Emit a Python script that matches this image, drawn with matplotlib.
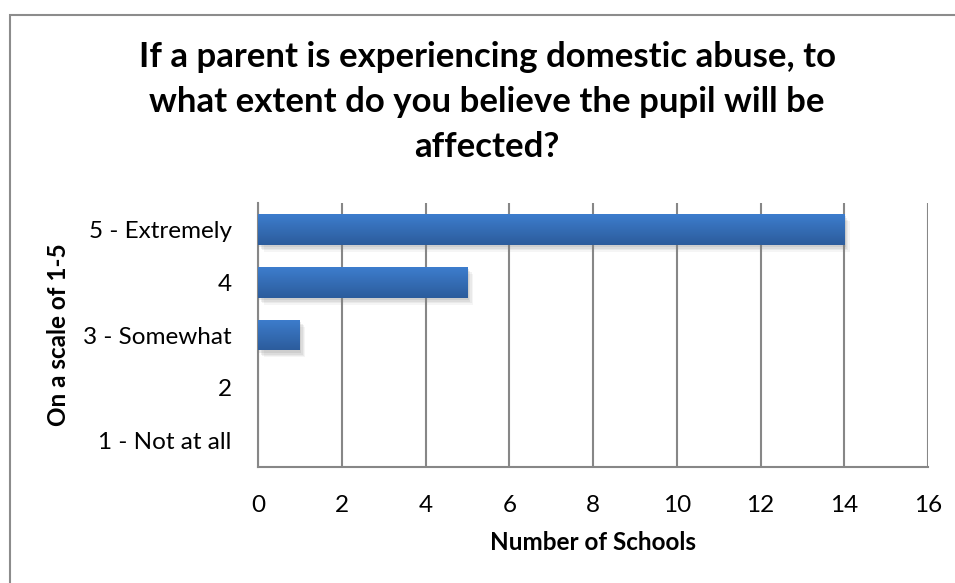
import matplotlib.pyplot as plt
import matplotlib.patheffects as pe
from matplotlib.patches import Rectangle
from matplotlib.colors import LinearSegmentedColormap
import numpy as np

plt.rcParams['font.family'] = ['Lato', 'DejaVu Sans']

# survey responses
categories = ["1 - Not at all", "2", "3 - Somewhat", "4", "5 - Extremely"]
schools = [0, 0, 1, 5, 14]
x_ticks = [0, 2, 4, 6, 8, 10, 12, 14, 16]

title = ("If a parent is experiencing domestic abuse, to\n"
         "what extent do you believe the pupil will be\n"
         "affected?")

W, H = 955, 583
fig = plt.figure(figsize=(W / 100, H / 100), dpi=100)
ax_left, ax_top, ax_bottom = 258, 203, 467
ax = fig.add_axes([ax_left / W, 1 - ax_bottom / H, 670 / W, (ax_bottom - ax_top) / H])

grid_col = "#878787"

# outer chart frame (runs off the right and bottom edges)
fig.patches.append(Rectangle((9.5 / W, -0.05), 1.2, 1 - 14.5 / H + 0.05,
                             transform=fig.transFigure, fill=False,
                             edgecolor="#8c8c8c", linewidth=1.5))

ypos = np.arange(len(categories))
bars = ax.barh(ypos, schools, height=0.585, color="#3a72c0", zorder=3,
               edgecolor="none")

# vertical gradient inside each bar, with a soft drop shadow
grad = np.linspace(0, 1, 64).reshape(-1, 1)
cmap = LinearSegmentedColormap.from_list("bar", ["#2c5c9c", "#3d7dcd"])
shadow = [pe.SimplePatchShadow(offset=off, shadow_rgbFace="#808080", alpha=a)
          for off, a in [((4, -5), 0.08), ((3, -4), 0.1), ((2, -3), 0.12), ((1, -1.5), 0.15)]]
for b in bars:
    if b.get_width() <= 0:
        continue
    b.set_path_effects(shadow + [pe.Normal()])
    x0, y0 = b.get_x(), b.get_y()
    im = ax.imshow(grad, cmap=cmap, aspect="auto", origin="lower",
                   extent=(x0, x0 + b.get_width(), y0, y0 + b.get_height()),
                   zorder=4)
    im.set_clip_path(b)

ax.set_xlim(0, 16)
ax.set_ylim(-0.5, len(categories) - 0.5)
ax.set_xticks(x_ticks)
ax.set_yticks(ypos)
ax.set_yticklabels(categories)
ax.tick_params(axis="both", length=0, labelsize=17.5, colors="black")
ax.tick_params(axis="x", pad=20)
ax.tick_params(axis="y", pad=19)

ax.xaxis.grid(True, color=grid_col, linewidth=1.5, zorder=1)
ax.set_axisbelow(True)
for side in ["top", "right"]:
    ax.spines[side].set_visible(False)
for side in ["left", "bottom"]:
    ax.spines[side].set_color(grid_col)
    ax.spines[side].set_linewidth(1.5)

ax_h = ax_bottom - ax_top
ax.set_xlabel("Number of Schools", fontsize=17.5, fontweight="bold", va="center")
ax.xaxis.set_label_coords(0.5, -(542 - ax_bottom) / ax_h)
ax.set_ylabel("On a scale of 1-5", fontsize=17.5, fontweight="bold", va="center")
ax.yaxis.set_label_coords(-(ax_left - 58) / 670, 0.5)

fig.text(487 / W, 1 - 102 / H, title, ha="center", va="center", fontsize=25,
         fontweight="bold", linespacing=1.5)

fig.savefig("out.png", dpi=100, facecolor="white")
